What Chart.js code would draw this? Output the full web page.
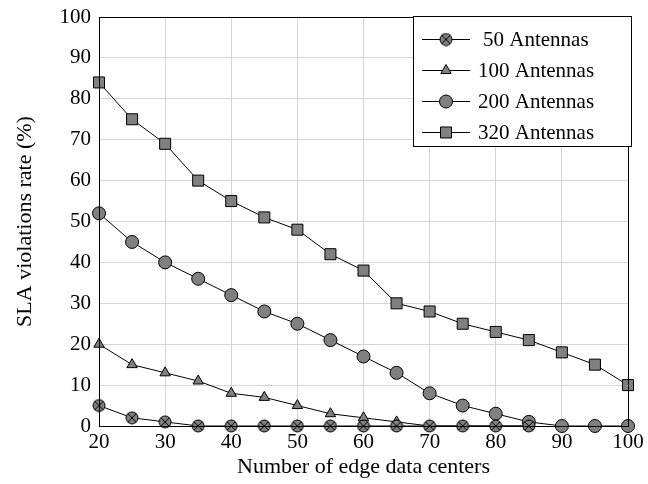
<!DOCTYPE html>
<html>
<head>
<meta charset="utf-8">
<script src="https://cdn.jsdelivr.net/npm/chart.js@4.4.1/dist/chart.umd.min.js"></script>
<style>
  html, body { margin: 0; padding: 0; background: #fff; }
  #wrap { width: 648px; height: 484px; }
</style>
</head>
<body>
<div id="wrap"><canvas id="slaChart" width="648" height="484"></canvas></div>
<script>
// Data
const edgeCenters = [20, 25, 30, 35, 40, 45, 50, 55, 60, 65, 70, 75, 80, 85, 90, 95, 100]
const ant50 = [5, 2, 1, 0, 0, 0, 0, 0, 0, 0, 0, 0, 0, 0]
const ant100 = [20, 15, 13, 11, 8, 7, 5, 3, 2, 1, 0, 0, 0, 0]
const ant200 = [52, 45, 40, 36, 32, 28, 25, 21, 17, 13, 8, 5, 3, 1, 0, 0, 0]
const ant320 = [84, 75, 69, 60, 55, 51, 48, 42, 38, 30, 28, 25, 23, 21, 18, 15, 10]
const seriesLabels = ['50 Antennas', '100 Antennas', '200 Antennas', '320 Antennas']
const xTicks = [20, 30, 40, 50, 60, 70, 80, 90, 100]
const yTicks = [0, 10, 20, 30, 40, 50, 60, 70, 80, 90, 100]

const FONT = "'Liberation Serif', serif"
const markFill = '#808080'

// circle with an x inside, for the 50 antennas series
function crossCircle(r) {
  const c = document.createElement('canvas')
  const s = Math.ceil(r * 2 + 2)
  c.width = s
  c.height = s
  const g = c.getContext('2d')
  const m = s / 2
  g.fillStyle = markFill
  g.strokeStyle = '#000'
  g.lineWidth = 1
  g.beginPath()
  g.arc(m, m, r, 0, Math.PI * 2)
  g.fill()
  g.stroke()
  const d = r * 0.7
  g.beginPath()
  g.moveTo(m - d, m - d)
  g.lineTo(m + d, m + d)
  g.moveTo(m + d, m - d)
  g.lineTo(m - d, m + d)
  g.stroke()
  return c
}
const crossImg = crossCircle(6)

const toPoints = (vals) => vals.map((v, i) => ({ x: edgeCenters[i], y: v }))

function series(label, vals, style, radius) {
  return {
    label: label,
    data: toPoints(vals),
    borderColor: '#000',
    borderWidth: 1,
    backgroundColor: markFill,
    pointBackgroundColor: markFill,
    pointBorderColor: '#000',
    pointBorderWidth: 1,
    pointStyle: style,
    pointRadius: radius,
    pointHoverRadius: radius,
    tension: 0,
    clip: false,
  }
}

// frame around the plot + boxed legend inside the plot
const framePlugin = {
  id: 'frame',
  afterDraw(chart) {
    const { ctx, chartArea: a } = chart
    ctx.save()
    ctx.strokeStyle = '#000'
    ctx.lineWidth = 1
    ctx.strokeRect(a.left + 0.5, a.top + 0.5, a.right - a.left, a.bottom - a.top)

    // legend
    const bx = 413, by = 16, bw = 218, bh = 130
    ctx.fillStyle = '#fff'
    ctx.fillRect(bx, by, bw, bh)
    ctx.strokeRect(bx + 0.5, by + 0.5, bw, bh)
    ctx.font = '21px ' + FONT
    ctx.textBaseline = 'middle'
    chart.data.datasets.forEach((ds, i) => {
      const y = by + 23 + i * 31
      ctx.strokeStyle = '#000'
      ctx.lineWidth = 1
      ctx.beginPath()
      ctx.moveTo(bx + 9, y + 0.5)
      ctx.lineTo(bx + 57, y + 0.5)
      ctx.stroke()
      ctx.fillStyle = markFill
      Chart.helpers.drawPoint(ctx, {
        pointStyle: ds.pointStyle,
        radius: ds.pointRadius,
        borderWidth: 1,
        rotation: 0,
      }, bx + 33, y + 0.5)
      ctx.fillStyle = '#000'
      ctx.fillText(ds.label, bx + 65 + (i === 0 ? 5 : 0), y + 1)
    })
    ctx.restore()
  },
}

new Chart(document.getElementById('slaChart'), {
  type: 'line',
  data: {
    datasets: [
      series(seriesLabels[0], ant50, crossImg, 6),
      series(seriesLabels[1], ant100, 'triangle', 6),
      series(seriesLabels[2], ant200, 'circle', 6.5),
      series(seriesLabels[3], ant320, 'rect', 7.8),
    ],
  },
  options: {
    responsive: false,
    animation: false,
    layout: { padding: { top: 17, right: 20, left: 0, bottom: 0 } },
    plugins: {
      legend: { display: false },
      tooltip: { enabled: false },
    },
    scales: {
      x: {
        type: 'linear',
        min: 20,
        max: 100,
        afterBuildTicks: (s) => { s.ticks = xTicks.map((v) => ({ value: v })) },
        afterFit: (s) => {
          s.height = 58
          s.paddingLeft = 0
          s.paddingRight = 0
        },
        grid: { color: '#d4d4d4', drawTicks: false },
        border: { color: '#000' },
        ticks: { color: '#000', padding: 4, maxRotation: 0, font: { family: FONT, size: 21 } },
        title: {
          display: true,
          text: 'Number of edge data centers',
          color: '#000',
          font: { family: FONT, size: 22 },
          padding: { top: 0, bottom: 4 },
        },
      },
      y: {
        min: 0,
        max: 100,
        afterBuildTicks: (s) => { s.ticks = yTicks.map((v) => ({ value: v })) },
        afterFit: (s) => {
          s.width = 99
          s.paddingTop = 0
          s.paddingBottom = 0
        },
        grid: { color: '#d4d4d4', drawTicks: false },
        border: { color: '#000' },
        ticks: { color: '#000', padding: 8, font: { family: FONT, size: 21 } },
        title: {
          display: true,
          text: 'SLA violations rate (%)',
          color: '#000',
          font: { family: FONT, size: 22 },
          padding: { top: 12, bottom: 0 },
        },
      },
    },
  },
  plugins: [framePlugin],
})
</script>
</body>
</html>
